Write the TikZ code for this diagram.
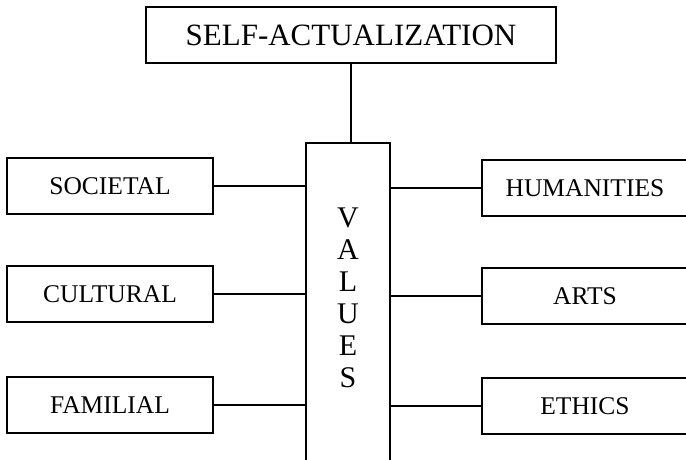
\documentclass[tikz,border=0pt]{standalone}
\usepackage{fontspec}
\setmainfont{Liberation Serif}
\begin{document}
\begin{tikzpicture}[x=1pt,y=-1pt,
  frame/.style={draw=black,line width=2pt,fill=white,rectangle,inner sep=0pt,
    minimum width=206pt,minimum height=56pt,font=\fontsize{25.5}{30}\selectfont},
  link/.style={draw=black,line width=2pt}]
\useasboundingbox (0,0) rectangle (686,459);
\clip (0,0) rectangle (686,459);

% apex
\node[frame,minimum width=410pt,minimum height=56pt,font=\fontsize{31}{36}\selectfont]
  (top) at (351,35) {SELF-ACTUALIZATION};

% central column (runs off the lower edge)
\node[frame,minimum width=84pt,minimum height=322pt] (values) at (348,304) {};
\node[align=center,inner sep=0pt,font=\fontsize{30}{32}\selectfont]
  (valtext) at (348,298) {V\\A\\L\\U\\E\\S};

% left column
\node[frame] (soc) at (110,186) {SOCIETAL};
\node[frame] (cul) at (110,294) {CULTURAL};
\node[frame] (fam) at (110,405) {FAMILIAL};

% right column (runs off the right edge)
\node[frame] (hum) at (585,188) {HUMANITIES};
\node[frame] (art) at (585,296) {ARTS};
\node[frame] (eth) at (585,406) {ETHICS};

% connectors
\draw[link] (top.south) -- (top.south |- values.north);
\draw[link] (soc.east) -- (soc.east -| values.west);
\draw[link] (cul.east) -- (cul.east -| values.west);
\draw[link] (fam.east) -- (fam.east -| values.west);
\draw[link] (values.east |- hum.west) -- (hum.west);
\draw[link] (values.east |- art.west) -- (art.west);
\draw[link] (values.east |- eth.west) -- (eth.west);
\end{tikzpicture}
\end{document}
